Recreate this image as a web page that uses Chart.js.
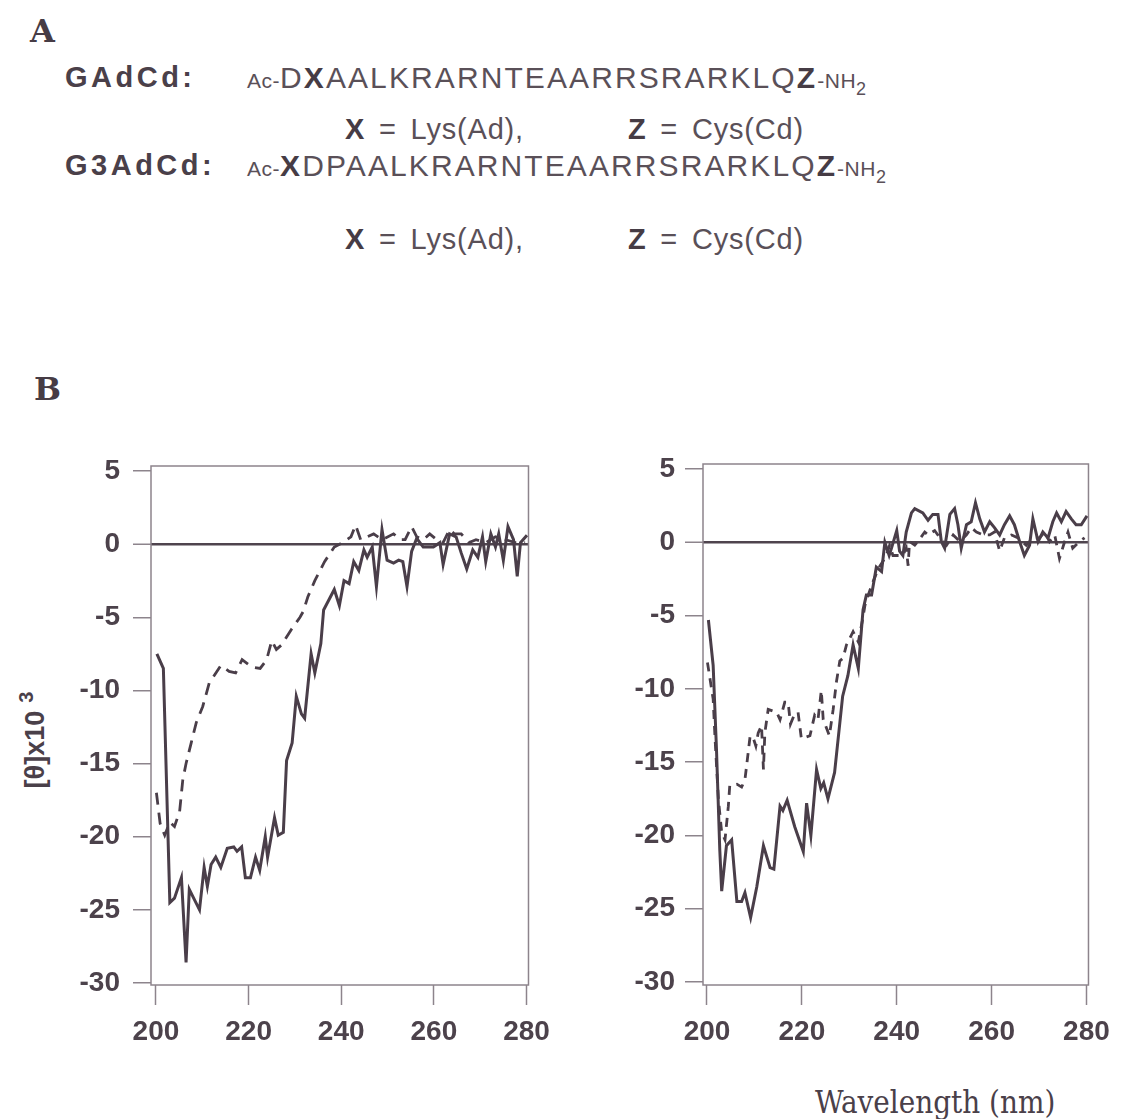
<!DOCTYPE html>
<html><head><meta charset="utf-8">
<script src="https://cdn.jsdelivr.net/npm/chart.js@4.4.1/dist/chart.umd.min.js"></script>
<style>
html,body{margin:0;padding:0;background:#fff}
body{width:1139px;height:1119px;position:relative;overflow:hidden;font-family:"Liberation Sans",Arial,sans-serif;color:#4d434c}
.abs{position:absolute;white-space:nowrap;line-height:1}
.panel{font-family:"DejaVu Serif",serif;font-weight:bold;font-size:32px;color:#463c45}
.name{font-weight:bold;font-size:29px;letter-spacing:3.5px;color:#4a4049}
.seq{font-size:30px;letter-spacing:2.1px;color:#5a5058}
.seq b{color:#463c45}
.sm{font-size:21px;letter-spacing:0.5px}
.sub{font-size:18px;position:relative;top:7px}
.def{font-size:29px;color:#5a5058;letter-spacing:0.8px;word-spacing:5px}
.def b{color:#463c45}
.ytitle{font-weight:bold;font-size:27px;color:#4a4049;transform:translate(-50%,-50%) rotate(-90deg);left:35px;top:740px}
.ytitle sup{font-size:20px;position:relative;top:-6px;vertical-align:top;margin-left:8px}
.xtitle{font-family:"DejaVu Serif Condensed","DejaVu Serif",serif;font-size:31px;color:#4a4049}
canvas{position:absolute}
</style></head>
<body>
<div class="abs panel" style="left:30px;top:15px">A</div>
<div class="abs name" style="left:65px;top:63px">GAdCd:</div>
<div class="abs seq" style="left:247px;top:63px"><span class="sm">Ac-</span>D<b>X</b>AALKRARNTEAARRSRARKLQ<b>Z</b><span class="sm">-NH</span><span class="sub">2</span></div>
<div class="abs def" style="left:345px;top:115px"><b>X</b> = Lys(Ad),</div>
<div class="abs def" style="left:628px;top:115px"><b>Z</b> = Cys(Cd)</div>
<div class="abs name" style="left:65px;top:151px">G3AdCd:</div>
<div class="abs seq" style="left:247px;top:151px"><span class="sm">Ac-</span><b>X</b>DPAALKRARNTEAARRSRARKLQ<b>Z</b><span class="sm">-NH</span><span class="sub">2</span></div>
<div class="abs def" style="left:345px;top:225px"><b>X</b> = Lys(Ad),</div>
<div class="abs def" style="left:628px;top:225px"><b>Z</b> = Cys(Cd)</div>
<div class="abs panel" style="left:34px;top:373px">B</div>
<div class="abs ytitle">[θ]x10<sup>3</sup></div>
<div class="abs xtitle" style="left:815px;top:1087px">Wavelength (nm)</div>
<canvas id="c1" width="560" height="640" style="left:0px;top:430px"></canvas>
<canvas id="c2" width="540" height="640" style="left:580px;top:430px"></canvas>
<script>
// Tick labels
const X_TICKS = [200, 220, 240, 260, 280];
const Y_TICKS = [5, 0, -5, -10, -15, -20, -25, -30];

// Left panel (GAdCd): solid curve
const leftSolidWl = [200.2,201.6,203,204,205.5,206.5,207.2,209.4,210.4,211.1,211.9,212.9,214,215.4,216.8,217.5,218.5,219.3,220.4,221.5,222.4,223.6,224.1,225.6,226.4,227.5,228.2,229.4,230.3,231.4,232.1,233.5,234.3,235.6,236.2,238.5,239.6,240.6,241.7,242.7,243.8,244.9,245.6,246.7,247.6,248.8,249.9,251.3,252.4,253.3,254.2,255.2,256.3,257.7,259.9,261.3,262,263.4,264.8,265.9,267.1,268.4,269.5,270.5,271.2,272.3,273.3,274,275,276,277.2,278,278.7,280.1];
const leftSolid = [-7.5,-8.5,-24.5,-24.2,-22.8,-28.6,-23.6,-25,-22.1,-23.4,-21.9,-21.4,-22.1,-20.8,-20.7,-21,-20.7,-22.8,-22.8,-21.4,-22.3,-20,-21.4,-18.7,-19.9,-19.7,-14.8,-13.6,-10.4,-11.6,-11.9,-7.5,-8.8,-6.8,-4.5,-3.1,-4.2,-2.5,-2.7,-1.2,-1.8,-0.4,-0.9,-0.2,-2.9,1.0,-1.1,-1.3,-1.1,-1.2,-2.9,-0.5,0.4,-0.2,-0.2,0.1,-1.4,0.7,0.5,-0.6,-1.7,-0.4,-0.9,0.5,-1.2,0.7,-0.2,0.7,-1.1,1.2,0.3,-2.2,0.1,0.6];

// Left panel: dashed curve
const leftDashWl = [200.1,200.9,201.9,203,204,205.1,205.8,206.5,207.6,208.7,210.1,211.5,214,215.8,217.2,218.6,220.7,222.5,223.9,225,226,227.1,229.3,231.1,231.8,232.8,234.3,236.4,238.5,240.3,242.1,243.1,244.2,245.6,247,248.8,251.3,252.7,253.8,255.2,256.3,257.7,259.1,260.6,262,263.4,264.4,265.9,267.6,269.1,271.2,273.3,275.5,277.6,279.7];
const leftDash = [-17,-19.1,-19.9,-19,-19.3,-18.3,-16.1,-15,-13.6,-12.2,-11.1,-9.5,-8.3,-8.7,-8.8,-7.9,-8.4,-8.5,-7.9,-6.6,-7.2,-6.9,-5.8,-5,-4.6,-3.6,-2.5,-1.2,-0.2,0.1,0.5,1.3,0.3,0.5,0.7,0.3,0.7,0.3,0.3,1.2,0.5,0.3,0.7,0.3,0.1,1.0,0.7,0.7,0.1,0.3,0.1,0.5,0.3,0.1,0.1];

// Right panel (G3AdCd): solid curve
const rightSolidWl = [200.3,201.3,202,202.7,203.1,204.1,205.2,206.3,207.3,208,209.2,210.5,211.9,213.3,214.1,215.4,216,216.9,218.5,220.3,221,221.9,223.1,224,224.6,225.5,226.9,228.6,229.7,230.8,231.9,232.9,233.6,234.7,235.7,236.8,237.5,238.4,238.9,240,240.6,241.3,242,243.1,243.8,245.5,246.6,247.6,248.7,249.4,250.1,251.2,252.2,252.9,253.6,254.7,255.7,256.6,257.5,258.5,259.6,260.6,261.7,262.7,263.8,264.8,265.9,266.9,268,268.7,269.8,270.8,271.9,272.9,273.7,274.7,275.7,276.8,277.8,278.9,280.1];
const rightSolid = [-5.3,-8.4,-14.1,-21,-23.8,-20.7,-20.3,-24.5,-24.5,-23.9,-25.6,-23.5,-20.7,-22.2,-22.3,-18,-18.3,-17.6,-19.4,-21.1,-17.8,-20,-15.5,-16.8,-16.4,-17.5,-15.7,-10.5,-9.1,-7,-8.6,-4.6,-3.6,-3.6,-1.7,-2,0,-0.9,-0.4,0.8,-0.6,-0.9,0.7,2.0,2.3,2.0,1.5,1.9,1.9,0.05,-0.4,1.9,2.3,1.2,-0.4,1.2,1.4,2.7,1.6,0.7,1.4,1.0,0.5,1.2,1.8,1.2,0.05,-0.9,-0.2,1.6,0.05,0.7,0.3,1.4,2.0,1.4,2.1,1.6,1.2,1.2,1.8];

// Right panel: dashed curve
const rightDashWl = [200.1,201.3,201.7,202.4,203.1,203.8,204.5,204.8,206.3,207.3,208,208.7,209.1,209.8,210.3,210.8,211.5,211.9,212.2,212.9,214.7,215.4,216.4,217.1,217.6,218.5,219.2,219.9,221.7,222.7,223.4,224.1,224.5,225,225.8,226.6,227.3,228,228.7,229.4,230.8,231.9,232.9,233.3,234.2,235,236.1,237.1,237.8,238.5,239.2,240.3,241.3,242,242.4,242.7,243.8,244.8,245.9,246.6,248,249.1,250.5,251.9,253.3,254.7,255.7,256.8,258.2,259.6,260.6,261.7,262.7,264.2,265.6,267.3,268.7,270.1,271.2,272.2,273.3,274.3,275.4,276.1,277.1,278.5,279.6];
const rightDash = [-8.2,-10.7,-13.4,-17.5,-19.8,-20.3,-18,-16.6,-16.5,-16.7,-16.2,-14.3,-13.2,-13.4,-13.9,-13,-12.5,-15.5,-13,-11.4,-11.6,-12.1,-10.9,-10.9,-12.4,-11.7,-11.6,-13.4,-13.2,-11.8,-12.1,-10.1,-12.1,-12.5,-13.2,-11.4,-9.5,-8.1,-7.9,-7,-6.1,-6.8,-5.1,-4.3,-3.4,-2.7,-1.8,-1.3,-0.9,-0.2,-0.9,-0.9,-0.9,-0.4,-1.6,0.05,-0.2,0.2,0.7,0.5,0.8,0.3,-0.2,0.5,0.05,0.5,1.0,0.7,0.5,0.5,0.7,-0.6,0.3,0.5,0.3,-0.2,0.3,0.3,0.7,0.05,0.5,-1.1,0.05,0.7,-0.4,0.05,0.3];

const LINE = '#4a3e49';
const FRAME = '#8d848c';
const TEXT = '#4c424b';
const FONT = {family: '"Liberation Sans", Arial, sans-serif', size: 28, weight: 'bold'};

const framePlugin = {
  id: 'frame',
  beforeDatasetsDraw(chart) {
    const a = chart.chartArea, ctx = chart.ctx;
    ctx.save();
    ctx.strokeStyle = FRAME;
    ctx.lineWidth = 1.5;
    ctx.strokeRect(a.left, a.top, a.right - a.left, a.bottom - a.top);
    ctx.restore();
  }
};

function pts(wl, v) { return wl.map((x, i) => ({x: x, y: v[i]})); }

function makeChart(id, o) {
  new Chart(document.getElementById(id), {
    type: 'line',
    data: {
      datasets: [
        {data: pts(o.dWl, o.d), borderColor: LINE, borderWidth: 2.8, borderDash: o.dash, pointRadius: 0, tension: 0, fill: false},
        {data: pts(o.sWl, o.s), borderColor: LINE, borderWidth: 3, pointRadius: 0, tension: 0, fill: false}
      ]
    },
    options: {
      responsive: false,
      animation: false,
      devicePixelRatio: 1,
      layout: {padding: {top: o.padTop, right: o.padRight, bottom: 0, left: 0}},
      plugins: {legend: {display: false}, tooltip: {enabled: false}},
      scales: {
        x: {
          type: 'linear', min: o.xmin, max: o.xmax,
          afterBuildTicks: s => { s.ticks = X_TICKS.map(v => ({value: v})); },
          afterFit: s => { s.height = 85; },
          border: {display: false},
          grid: {drawOnChartArea: false, drawTicks: true, tickLength: 20, tickColor: FRAME, tickWidth: 1.5, color: FRAME},
          ticks: {color: TEXT, font: FONT, padding: 10, maxRotation: 0, autoSkip: false}
        },
        y: {
          type: 'linear', min: o.ymin, max: o.ymax,
          afterBuildTicks: s => { s.ticks = Y_TICKS.map(v => ({value: v})); },
          afterFit: s => { s.width = o.yWidth; },
          border: {display: false},
          grid: {
            drawOnChartArea: true, drawTicks: true, tickLength: 18, tickColor: FRAME, tickWidth: 1.5,
            color: c => (c.tick && c.tick.value === 0) ? '#4f444e' : 'rgba(0,0,0,0)',
            lineWidth: c => (c.tick && c.tick.value === 0) ? 2.5 : 1.5
          },
          ticks: {color: TEXT, font: FONT, padding: o.yPad, autoSkip: false}
        }
      }
    },
    plugins: [framePlugin]
  });
}

makeChart('c1', {sWl: leftSolidWl, s: leftSolid, dWl: leftDashWl, d: leftDash, dash: [12, 8],
  xmin: 198.93, xmax: 280.43, ymin: -30.14, ymax: 5.34, yWidth: 151, yPad: 13, padTop: 36, padRight: 27});
makeChart('c2', {sWl: rightSolidWl, s: rightSolid, dWl: rightDashWl, d: rightDash, dash: [9, 7],
  xmin: 199.16, xmax: 280.42, ymin: -30.2, ymax: 5.34, yWidth: 123, yPad: 10, padTop: 34, padRight: 31});
</script>
</body></html>
